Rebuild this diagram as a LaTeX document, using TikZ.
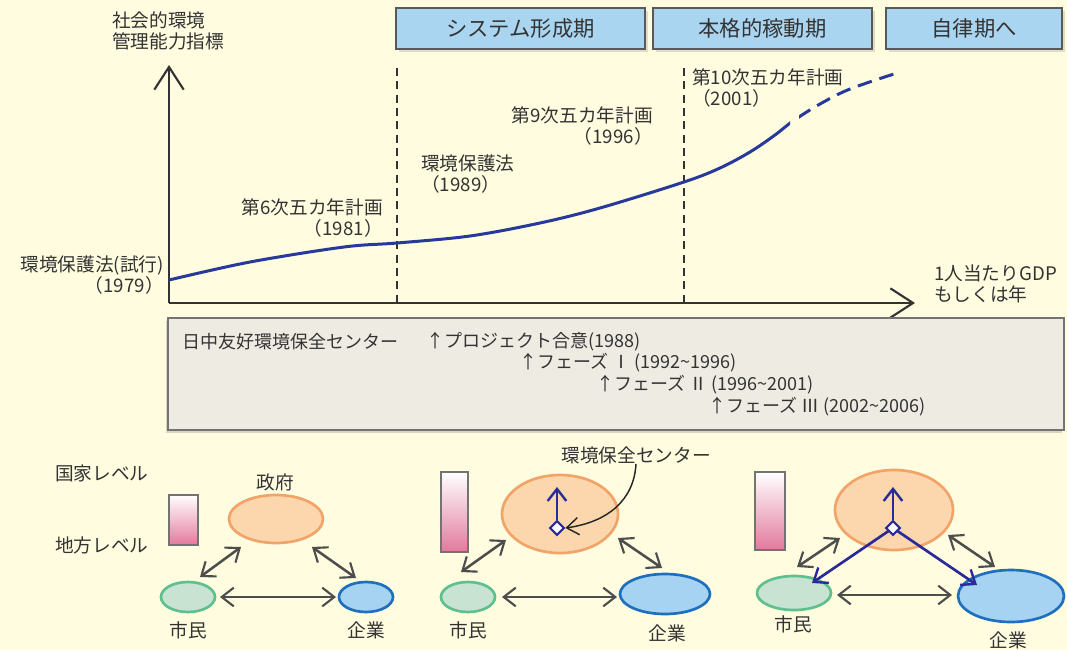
\documentclass[tikz,border=0pt]{standalone}
\usepackage{fontspec}
\setmainfont{Noto Sans CJK JP}
\usetikzlibrary{arrows.meta,shapes.geometric,shadows}
\definecolor{bg}{HTML}{FFFCE0}
\definecolor{txt}{HTML}{333333}
\definecolor{phasefill}{HTML}{A9D5F1}
\definecolor{boxfill}{HTML}{EEEBE3}
\definecolor{curveblue}{HTML}{27399A}
\definecolor{navy}{HTML}{2A2A9A}
\definecolor{arrgray}{HTML}{4D4D4D}
\definecolor{govfill}{HTML}{FCD7AE}
\definecolor{govline}{HTML}{F2A468}
\definecolor{citfill}{HTML}{C9E3D3}
\definecolor{citline}{HTML}{5EC08E}
\definecolor{entfill}{HTML}{A6D3F2}
\definecolor{entline}{HTML}{1F6FBF}
\definecolor{barpink}{HTML}{E3799C}
\newcommand{\tld}{\textasciitilde}
\begin{document}
\begin{tikzpicture}[x=0.75pt,y=-0.75pt,
  lbl/.style={inner sep=0pt,text=txt,font=\fontsize{14}{15.75}\selectfont},
  boxtxt/.style={inner sep=0pt,text=txt,anchor=west,font=\fontsize{13.5}{15}\selectfont},
  phasebox/.style={draw=black!65,line width=1pt,fill=phasefill,inner sep=0pt,
    drop shadow={shadow xshift=2pt,shadow yshift=-2pt,opacity=0.25},
    text=txt,font=\fontsize{16}{18}\selectfont},
  axis/.style={draw=black!80,line width=1.8pt},
  chev/.style={-{Straight Barb[length=17pt,width=22pt,line width=1.6pt]}},
  vdash/.style={draw=black!80,line width=1.1pt,dash pattern=on 6pt off 4pt},
  gov/.style={ellipse,draw=govline,fill=govfill,line width=2pt,inner sep=0pt},
  cit/.style={ellipse,draw=citline,fill=citfill,line width=2pt,inner sep=0pt},
  ent/.style={ellipse,draw=entline,fill=entfill,line width=2pt,inner sep=0pt},
  levelbar/.style={draw=black!55,line width=1.1pt,top color=white,bottom color=barpink,inner sep=0pt},
  dbl/.style={draw=arrgray,line width=1.9pt,
    {Straight Barb[length=9pt,width=14pt,line width=1.6pt]}-{Straight Barb[length=9pt,width=14pt,line width=1.6pt]}},
  blu/.style={draw=navy,line width=2pt,-{Straight Barb[length=9pt,width=14pt,line width=1.8pt]}},
  dia/.style={diamond,draw=navy,fill=white,line width=1.6pt,inner sep=0pt,minimum size=11pt},
  pointer/.style={draw=black!85,line width=1.1pt,-{Straight Barb[length=9pt,width=13pt,line width=1.1pt]}}
]
\useasboundingbox (0,0) rectangle (1067,650);
\fill[bg] (0,0) rectangle (1067,650);

% phase boxes
\node[phasebox,minimum width=186.75pt,minimum height=30.75pt] (ph1) at (520.5,28.5) {システム形成期};
\node[phasebox,minimum width=164.25pt,minimum height=30.75pt] (ph2) at (762.5,28.5) {本格的稼動期};
\node[phasebox,minimum width=132pt,minimum height=30.75pt] (ph3) at (974,28.5) {自律期へ};

% axes
\coordinate (O) at (169,303);
\coordinate (ytip) at (169,65);
\coordinate (xtip) at (915,303);
\draw[vdash] (397,68) coordinate (d1t) -- (397,303) coordinate (d1b);
\draw[vdash] (684,68) coordinate (d2t) -- (684,303) coordinate (d2b);
\draw[axis,chev] (O) -- (ytip);
\draw[axis,chev] (O) -- (xtip);

% curve
\def\curvepts{(169,280) (250,262) (344,247) (397,243) (470,236) (540,223) (600,208) (684,182) (720,168) (750,152) (775,135) (793,121) (820,104) (850,89) (897,73)}
\begin{scope}
  \clip (160,0) rectangle (790,320);
  \draw[curveblue,line width=2.25pt] plot[smooth,tension=0.55] coordinates {\curvepts};
\end{scope}
\begin{scope}
  \clip (799,0) rectangle (920,320);
  \draw[curveblue,line width=2.25pt,dash pattern=on 11pt off 6pt] plot[smooth,tension=0.55] coordinates {\curvepts};
\end{scope}

% chart labels
\node[lbl,anchor=north west,align=left] (ylab) at (112,11) {社会的環境\\管理能力指標};
\node[lbl,anchor=east,align=right] (l1979) at (164,275) {環境保護法(試行)\\（1979）};
\node[lbl,anchor=east,align=right] (l1981) at (383,218) {第6次五カ年計画\\（1981）};
\node[lbl,anchor=west,align=left] (l1989) at (421,174) {環境保護法\\（1989）};
\node[lbl,anchor=east,align=right] (l1996) at (653,126) {第9次五カ年計画\\（1996）};
\node[lbl,anchor=west,align=left] (l2001) at (692,88) {第10次五カ年計画\\（2001）};
\node[lbl,anchor=west,align=left] (xlab) at (934,284) {1人当たりGDP\\もしくは年};

% center box
\node[draw=black!55,line width=1.1pt,fill=boxfill,minimum width=672pt,minimum height=84pt,inner sep=0pt,
  drop shadow={shadow xshift=-1.5pt,shadow yshift=-2pt,opacity=0.3}] (cbox) at (616,374) {};
\node[boxtxt] (t0) at (182,342) {日中友好環境保全センター};
\node[boxtxt] (t1) at (426,342) {↑プロジェクト合意(1988)};
\node[boxtxt] (t2) at (519,363) {↑フェーズ Ⅰ (1992\tld1996)};
\node[boxtxt] (t3) at (596,385) {↑フェーズ Ⅱ (1996\tld2001)};
\node[boxtxt] (t4) at (708,407) {↑フェーズ Ⅲ (2002\tld2006)};

% level labels
\node[lbl,anchor=west] (national) at (55,473) {国家レベル};
\node[lbl,anchor=west] (local) at (55,545) {地方レベル};

% bars
\node[levelbar,minimum width=21.75pt,minimum height=37.5pt] (bar1) at (183.5,520) {};
\node[levelbar,minimum width=20.25pt,minimum height=60pt] (bar2) at (454.5,512) {};
\node[levelbar,minimum width=22.5pt,minimum height=58.5pt] (bar3) at (770,511) {};

% group 1
\node[gov,minimum width=70.5pt,minimum height=36pt] (gov1) at (276,519) {};
\node[cit,minimum width=40.5pt,minimum height=22.5pt] (cit1) at (188,597) {};
\node[ent,minimum width=40.5pt,minimum height=22.5pt] (ent1) at (366,597) {};
\node[lbl] (gov1l) at (275,482) {政府};
\node[lbl] (cit1l) at (188,630) {市民};
\node[lbl] (ent1l) at (366,630) {企業};
\coordinate (a1s) at (200,577); \coordinate (a1e) at (241,547);
\coordinate (b1s) at (312,547); \coordinate (b1e) at (356,578);
\coordinate (c1s) at (220,597); \coordinate (c1e) at (336,597);
\draw[dbl] (a1s) -- (a1e);
\draw[dbl] (b1s) -- (b1e);
\draw[dbl] (c1s) -- (c1e);

% group 2
\node[gov,minimum width=87pt,minimum height=58.5pt] (gov2) at (560,514) {};
\node[cit,minimum width=40.5pt,minimum height=22.5pt] (cit2) at (468,597) {};
\node[ent,minimum width=67.5pt,minimum height=30pt] (ent2) at (665,594) {};
\node[lbl] (cit2l) at (468,630) {市民};
\node[lbl] (ent2l) at (667,633) {企業};
\node[lbl] (centerl) at (636,455) {環境保全センター};
\coordinate (a2s) at (461,572); \coordinate (a2e) at (506,540);
\coordinate (b2s) at (618,538); \coordinate (b2e) at (662,568);
\coordinate (c2s) at (502,597); \coordinate (c2e) at (617,597);
\draw[dbl] (a2s) -- (a2e);
\draw[dbl] (b2s) -- (b2e);
\draw[dbl] (c2s) -- (c2e);
\node[dia] (dia2) at (557,528) {};
\coordinate (up2) at (557,487);
\draw[blu] (dia2.north) -- (up2);
\draw[pointer] (centerl.south) .. controls (634,500) and (608,522) .. (dia2.east);

% group 3
\node[gov,minimum width=88.5pt,minimum height=60pt] (gov3) at (894,510) {};
\node[cit,minimum width=55.5pt,minimum height=25.5pt] (cit3) at (794,593) {};
\node[ent,minimum width=79.5pt,minimum height=39pt] (ent3) at (1011,596) {};
\node[lbl] (cit3l) at (793,624) {市民};
\node[lbl] (ent3l) at (1008,640) {企業};
\coordinate (a3s) at (797,567); \coordinate (a3e) at (840,538);
\coordinate (b3s) at (948,535); \coordinate (b3e) at (995,567);
\coordinate (c3s) at (837,595); \coordinate (c3e) at (952,595);
\draw[dbl] (a3s) -- (a3e);
\draw[dbl] (b3s) -- (b3e);
\draw[dbl] (c3s) -- (c3e);
\coordinate (up3) at (893,487);
\coordinate (to3c) at (812,583);
\coordinate (to3e) at (977,585);
\draw[blu] (893,528) -- (to3c);
\draw[blu] (893,528) -- (to3e);
\node[dia] (dia3) at (893,528) {};
\draw[blu] (dia3.north) -- (up3);
\end{tikzpicture}
\end{document}
